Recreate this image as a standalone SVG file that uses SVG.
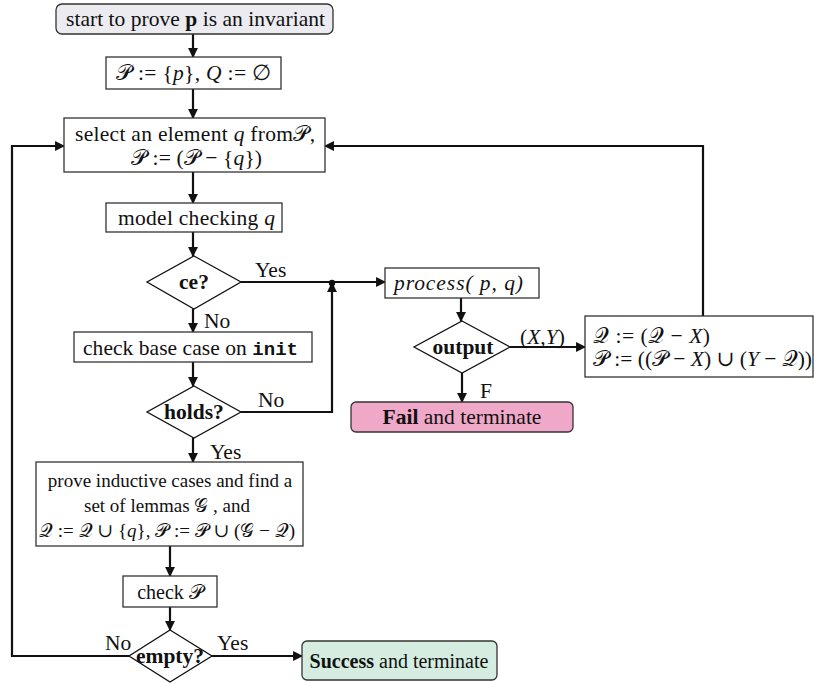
<svg xmlns="http://www.w3.org/2000/svg" width="814" height="683" viewBox="0 0 814 683">
<style>
text{font-family:"Liberation Serif","DejaVu Serif",serif;font-size:21.5px;fill:#111}
.s{font-size:20px}
.t{font-size:19px}
.c{text-anchor:middle}
.b{font-weight:bold}
.i{font-style:italic}
.m{font-family:"Liberation Mono",monospace;font-weight:bold;font-size:19px}
.box{fill:#fff;stroke:#333;stroke-width:1.3}
.dia{fill:#fff;stroke:#111;stroke-width:1.3}
.ln{fill:none;stroke:#111;stroke-width:2.2}
</style>
<defs>
<marker id="ah" viewBox="0 0 10 10" refX="9" refY="5" markerWidth="4.5" markerHeight="4.5" orient="auto" markerUnits="strokeWidth">
<path d="M0,0 L10,5 L0,10 Z" fill="#111"/>
</marker>
</defs>
<rect width="814" height="683" fill="#fff"/>
<g id="connectors">
<path class="ln" d="M193,34 V57" marker-end="url(#ah)"/>
<path class="ln" d="M193,89 V118" marker-end="url(#ah)"/>
<path class="ln" d="M193,172 V203" marker-end="url(#ah)"/>
<path class="ln" d="M193,232 V256" marker-end="url(#ah)"/>
<path class="ln" d="M241,282 H385" marker-end="url(#ah)"/>
<path class="ln" d="M193,309 V332" marker-end="url(#ah)"/>
<path class="ln" d="M193,362 V386" marker-end="url(#ah)"/>
<path class="ln" d="M241,412 H332 V283" marker-end="url(#ah)"/>
<circle cx="332" cy="283" r="3.2" fill="#111"/>
<path class="ln" d="M193,438 V462" marker-end="url(#ah)"/>
<path class="ln" d="M461,298 V321" marker-end="url(#ah)"/>
<path class="ln" d="M510,347 H585" marker-end="url(#ah)"/>
<path class="ln" d="M462,373 V402" marker-end="url(#ah)"/>
<path class="ln" d="M703,316 V146 H325" marker-end="url(#ah)"/>
<path class="ln" d="M170,546 V576" marker-end="url(#ah)"/>
<path class="ln" d="M170,607 V630" marker-end="url(#ah)"/>
<path class="ln" d="M129,656 H12 V146 H64" marker-end="url(#ah)"/>
<path class="ln" d="M212,656 H302" marker-end="url(#ah)"/>
</g>
<g id="start">
<rect x="56" y="4" width="277" height="30" rx="6" fill="#ebebf0" stroke="#333" stroke-width="1.3"/>
<text x="66" y="26" textLength="259">start to prove <tspan class="b">p</tspan> is an invariant</text>
</g>
<g id="init">
<rect class="box" x="106" y="57" width="175" height="32"/>
<text x="116" y="80" textLength="155">𝒫 := {<tspan class="i">p</tspan>},   <tspan class="i">Q</tspan> := ∅</text>
</g>
<g id="select">
<rect class="box" x="64" y="118" width="261" height="54"/>
<text x="75" y="141" textLength="240">select an element <tspan class="i">q</tspan> from𝒫,</text>
<text x="131" y="165" textLength="131">𝒫 := (𝒫 − {<tspan class="i">q</tspan>})</text>
</g>
<g id="modelcheck">
<rect class="box" x="106" y="203" width="176" height="29"/>
<text x="118" y="225" textLength="157">model checking <tspan class="i">q</tspan></text>
</g>
<g id="ce">
<polygon class="dia" points="194,256 241,282 194,309 147,282"/>
<text x="194" y="289" class="c b">ce?</text>
<text x="255" y="277">Yes</text>
<text x="204" y="328">No</text>
</g>
<g id="basecase">
<rect class="box" x="74" y="332" width="238" height="30"/>
<text x="83" y="355" textLength="215">check base case on <tspan class="m">init</tspan></text>
</g>
<g id="holds">
<polygon class="dia" points="194,386 241,412 194,438 147,412"/>
<text x="194" y="419" class="c b">holds?</text>
<text x="258" y="407">No</text>
<text x="210" y="459">Yes</text>
</g>
<g id="process">
<rect class="box" x="385" y="268" width="154" height="30"/>
<text x="394" y="290" class="i" textLength="129">process( p, q)</text>
</g>
<g id="output">
<polygon class="dia" points="462,321 510,347 462,373 414,347"/>
<text x="463" y="354" class="c b">output</text>
<text x="520" y="344">(<tspan class="i">X</tspan>,<tspan class="i">Y</tspan>)</text>
<text x="480" y="398">F</text>
</g>
<g id="update">
<rect class="box" x="585" y="316" width="228" height="61"/>
<text x="593" y="343" textLength="117">𝒬 := (𝒬 − <tspan class="i">X</tspan>)</text>
<text x="593" y="366" textLength="219">𝒫 := ((𝒫 − <tspan class="i">X</tspan>) ∪ (<tspan class="i">Y</tspan> − 𝒬))</text>
</g>
<g id="fail">
<rect x="351" y="402" width="222" height="30" rx="5" fill="#f0a8c8" stroke="#333" stroke-width="1.3"/>
<text x="462" y="424" class="c"><tspan class="b">Fail</tspan> and terminate</text>
</g>
<g id="prove">
<rect class="box" x="36" y="462" width="267" height="84"/>
<text x="170" y="487" class="c t">prove inductive cases and find a</text>
<text x="167" y="512" class="c t">set of lemmas 𝒢 , and</text>
<text x="167" y="537" class="c t">𝒬 := 𝒬 ∪ {<tspan class="i">q</tspan>},  𝒫 := 𝒫 ∪ (𝒢 − 𝒬)</text>
</g>
<g id="checkP">
<rect class="box" x="123" y="576" width="94" height="31"/>
<text x="170" y="599" class="c s">check 𝒫</text>
</g>
<g id="empty">
<polygon class="dia" points="170,630 212,656 170,682 129,656"/>
<text x="170" y="663" class="c b">empty?</text>
<text x="105" y="650">No</text>
<text x="217" y="650">Yes</text>
</g>
<g id="success">
<rect x="302" y="641" width="195" height="39" rx="5" fill="#d5ede0" stroke="#333" stroke-width="1.3"/>
<text x="399" y="668" class="c s"><tspan class="b">Success</tspan> and terminate</text>
</g>
</svg>
